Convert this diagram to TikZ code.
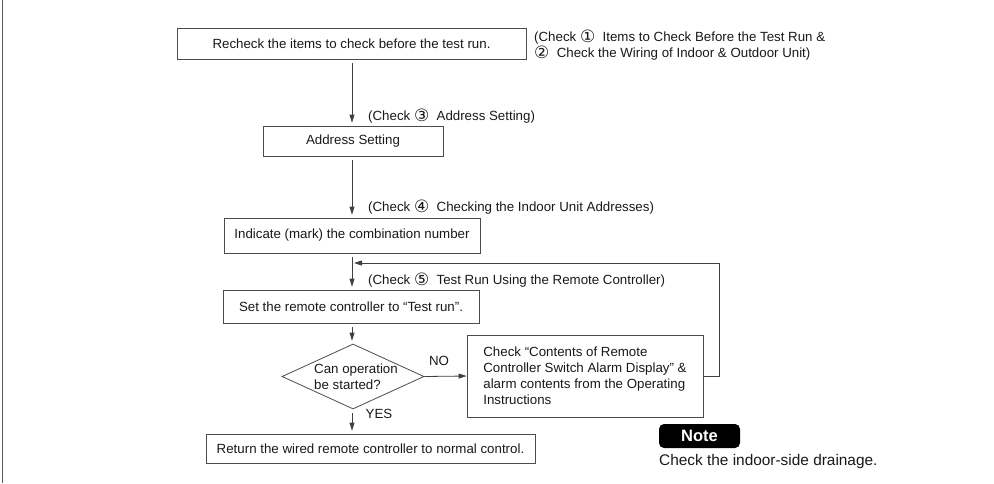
\documentclass[tikz,border=0pt]{standalone}
\usepackage{fontspec}
\setmainfont{Liberation Sans}
\newfontfamily\circfont{DejaVu Sans}
\usetikzlibrary{arrows.meta,shapes.geometric}
\newcommand{\cnum}[1]{{\circfont\fontsize{17}{16}\selectfont\raisebox{-0.5pt}{#1}}}

\begin{document}
\begin{tikzpicture}[x=1pt,y=-1pt,
    font=\fontsize{13.3}{16}\selectfont, text=black!90,
    box/.style={draw=black!70,line width=0.8pt,inner sep=0pt},
    decision/.style={diamond,draw=black!70,line width=0.8pt,aspect=2.18,
      minimum width=142pt,minimum height=65pt,inner sep=0pt},
    flow/.style={draw=black!75,line width=0.8pt,-{Triangle[length=8pt,width=5pt]}},
    gap/.style={shorten <=4pt,shorten >=3pt}]

    \useasboundingbox (0,0) rectangle (994,483);
    \draw[line width=1.5pt,black!65] (2.5,0) -- (2.5,483);

    \node[box,minimum width=349pt,minimum height=31pt] (recheck) at (351.5,43.5)
      {Recheck the items to check before the test run.};
    \node[anchor=west,align=left,inner sep=0pt] (ann1) at (534,45)
      {(Check \cnum{①}\ \ Items to Check Before the Test Run \&\\
       \cnum{②}\ \ Check the Wiring of Indoor \& Outdoor Unit)};

    \node[box,minimum width=180pt,minimum height=30pt] (addr) at (353,141) {Address Setting};
    \node[anchor=west,inner sep=0pt] (ann3) at (368,116) {(Check \cnum{③}\ \ Address Setting)};

    \node[box,minimum width=256pt,minimum height=35pt] (mark) at (352,235.5)
      {Indicate (mark) the combination number};
    \node[anchor=west,inner sep=0pt] (ann4) at (368,207)
      {(Check \cnum{④}\ \ Checking the Indoor Unit Addresses)};

    \node[box,minimum width=256pt,minimum height=33pt] (setrc) at (351,306.5)
      {Set the remote controller to “Test run”.};
    \node[anchor=west,inner sep=0pt] (ann5) at (368,280)
      {(Check \cnum{⑤}\ \ Test Run Using the Remote Controller)};

    \node[decision] (canop) at (353,376.5) {};
    \node[align=left,inner sep=0pt] (canoptxt) at (356,377) {Can operation\\be started?};

    \node[box,minimum width=236pt,minimum height=82pt,align=left] (alarm) at (585,376)
      {Check “Contents of Remote\\Controller Switch Alarm Display” \&\\
       alarm contents from the Operating\\Instructions};

    \node[box,minimum width=329pt,minimum height=29pt] (ret) at (370.5,448.5)
      {Return the wired remote controller to normal control.};

    \node[inner sep=0pt] (no) at (439,361) {NO};
    \node[inner sep=0pt] (yes) at (379,414) {YES};

    \node[fill=black,text=white,rounded corners=5pt,minimum width=81pt,minimum height=24pt,
      inner sep=0pt,font=\fontsize{16.5}{18}\selectfont\bfseries] (note) at (699.5,436) {Note};
    \node[anchor=west,inner sep=0pt,font=\fontsize{15.4}{18}\selectfont] (drain) at (659,462)
      {Check the indoor-side drainage.};

    \coordinate (fb) at (352,263);
    \coordinate (turn) at (719,263);

    \draw[flow,gap] (recheck.south -| mark) -- (addr.north -| mark);
    \draw[flow,gap] (addr.south -| mark) -- (mark.north);
    \draw[flow,gap] (mark.south) -- (setrc.north -| mark);
    \draw[flow,gap] (setrc.south -| mark) -- (canop.north -| mark);
    \draw[flow,gap] (canop.south -| mark) -- (ret.north -| mark);
    \draw[flow] (canop.east) -- (alarm.west);
    \draw[flow,shorten >=2pt] (alarm.east) -| (turn) -- (fb);
\end{tikzpicture}
\end{document}
